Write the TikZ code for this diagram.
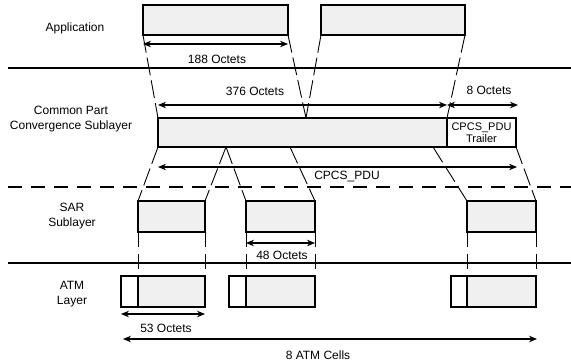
\documentclass[tikz,border=0pt]{standalone}
\usepackage{fontspec}
\setmainfont{Liberation Sans}
\usetikzlibrary{arrows.meta}
\begin{document}
\begin{tikzpicture}[x=1pt,y=-1pt,
  every node/.style={font=\fontsize{12}{14.5}\selectfont},
  box/.style={draw,line width=1.2pt,fill=gray!12,inner sep=0pt,outer sep=0pt,anchor=north west},
  hdr/.style={draw,line width=1.2pt,fill=white,inner sep=0pt,outer sep=0pt,anchor=north west},
  lbl/.style={inner sep=0pt,align=center},
  layerline/.style={line width=1.2pt},
  layerdash/.style={line width=1.2pt,dash pattern=on 14pt off 9pt},
  link/.style={line width=0.9pt,dash pattern=on 18pt off 5pt},
  tick/.style={line width=0.9pt,dash pattern=on 15pt off 7pt},
  dim/.style={line width=1.1pt,{Stealth[length=8pt,width=6.5pt]}-{Stealth[length=8pt,width=6.5pt]}}
]
\useasboundingbox (0,0) rectangle (571,364);

% layer separators
\coordinate (l1a) at (8,68);  \coordinate (l1b) at (571,68);
\coordinate (l2a) at (8,187); \coordinate (l2b) at (571,187);
\coordinate (l3a) at (8,263); \coordinate (l3b) at (571,263);
\draw[layerline] (l1a) -- (l1b);
\draw[layerdash] (l2a) -- (l2b);
\draw[layerline] (l3a) -- (l3b);

% layer labels
\node[lbl] (tApp) at (75,28) {Application};
\node[lbl] (tCP) at (71,119) {Common Part\\[0pt]Convergence Sublayer};
\node[lbl] (tSAR) at (72,216) {SAR\\[0pt]Sublayer};
\node[lbl] (tATM) at (72,294) {ATM\\[0pt]Layer};

% application boxes
\node[box,minimum width=145pt,minimum height=30pt] (app1) at (143,5) {};
\node[box,minimum width=144pt,minimum height=30pt] (app2) at (321,5) {};

% CPCS
\node[box,minimum width=289pt,minimum height=29pt] (cpcs) at (158,118) {};
\node[hdr,minimum width=69pt,minimum height=29pt,align=center,
      font=\fontsize{11}{12.5}\selectfont] (trl) at (447,118) {CPCS\_PDU\\Trailer};

% SAR boxes
\node[box,minimum width=67pt,minimum height=31pt] (sar1) at (138,201) {};
\node[box,minimum width=69pt,minimum height=31pt] (sar2) at (246,201) {};
\node[box,minimum width=69pt,minimum height=31pt] (sar3) at (467,201) {};

% ATM cells
\node[hdr,minimum width=17pt,minimum height=31pt] (h1) at (121,276) {};
\node[box,minimum width=67pt,minimum height=31pt] (c1) at (138,276) {};
\node[hdr,minimum width=17pt,minimum height=31pt] (h2) at (229,276) {};
\node[box,minimum width=69pt,minimum height=31pt] (c2) at (246,276) {};
\node[hdr,minimum width=16pt,minimum height=31pt] (h3) at (451,276) {};
\node[box,minimum width=69pt,minimum height=31pt] (c3) at (467,276) {};

% mapping lines app -> CPCS
\coordinate (v1) at (306,118);
\draw[link] (app1.south west) -- (cpcs.north west);
\draw[link] (app1.south east) -- (v1);
\draw[link] (app2.south west) -- (v1);
\draw[link] (app2.south east) -- (trl.north west);

% mapping lines CPCS -> SAR
\coordinate (v2) at (226,147);
\coordinate (p3) at (290,147);
\coordinate (p4) at (433,147);
\draw[link] (cpcs.south west) -- (sar1.north west);
\draw[link] (v2) -- (sar1.north east);
\draw[link] (v2) -- (sar2.north west);
\draw[link] (p3) -- (sar2.north east);
\draw[link] (p4) -- (sar3.north west);
\draw[link] (trl.south east) -- (sar3.north east);

% SAR -> ATM ticks
\draw[tick] (sar1.south west) -- (c1.north west);
\draw[tick] (sar1.south east) -- (c1.north east);
\draw[tick] (sar2.south west) -- (c2.north west);
\draw[tick] (sar2.south east) -- (c2.north east);
\draw[tick] (sar3.south west) -- (c3.north west);
\draw[tick] (sar3.south east) -- (c3.north east);

% dimension arrows
\coordinate (d188a) at (143,44); \coordinate (d188b) at (288,44);
\draw[dim] (d188a) -- (d188b);
\node[lbl] (t188) at (217,59) {188 Octets};

\coordinate (d376a) at (158,105); \coordinate (d376b) at (447,105);
\draw[dim] (d376a) -- (d376b);
\node[lbl] (t376) at (255,91) {376 Octets};

\coordinate (d8a) at (447,105); \coordinate (d8b) at (518,105);
\draw[dim] (d8a) -- (d8b);
\node[lbl] (t8) at (489,90) {8 Octets};

\coordinate (dpa) at (158,167); \coordinate (dpb) at (517,167);
\draw[dim] (dpa) -- (dpb);
\node[lbl] (tpdu) at (347,177) {CPCS\_PDU};

\coordinate (d48a) at (246,243); \coordinate (d48b) at (315,243);
\draw[dim] (d48a) -- (d48b);
\node[lbl] (t48) at (282,255) {48 Octets};

\coordinate (d53a) at (121,314); \coordinate (d53b) at (205,314);
\draw[dim] (d53a) -- (d53b);
\node[lbl] (t53) at (166,328) {53 Octets};

\coordinate (dca) at (123,339); \coordinate (dcb) at (537,339);
\draw[dim] (dca) -- (dcb);
\node[lbl] (tcells) at (318,355) {8 ATM Cells};
\end{tikzpicture}
\end{document}
